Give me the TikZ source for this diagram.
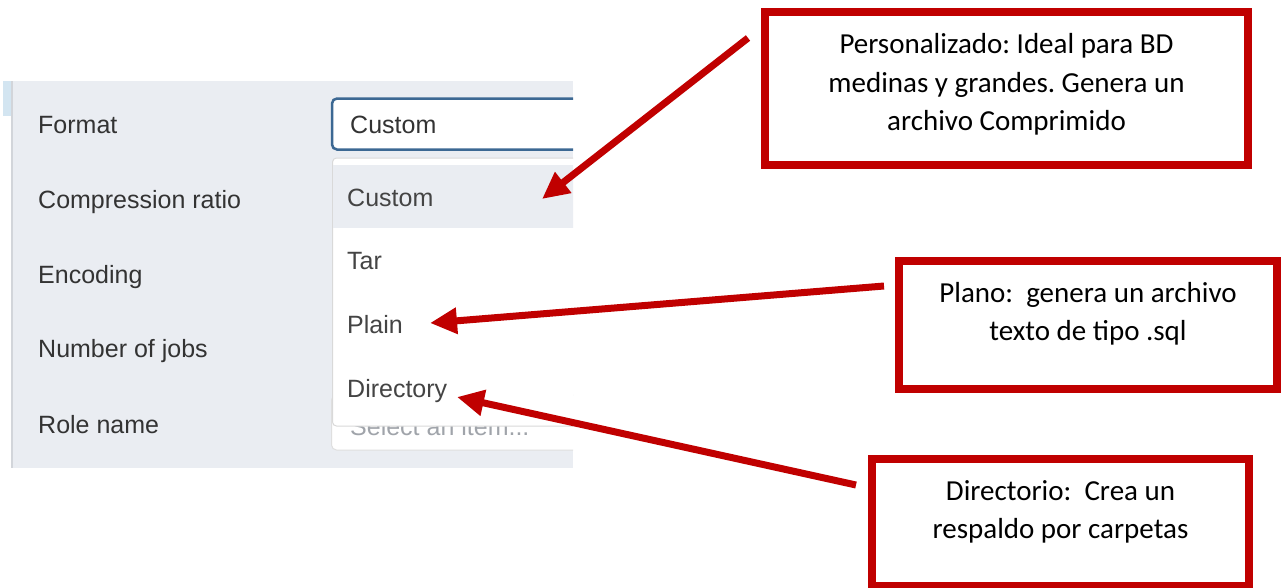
\documentclass[tikz,border=0pt]{standalone}
\usepackage{fontspec}
\setmainfont{Carlito}
\newfontfamily\uifont{Liberation Sans}
\usetikzlibrary{arrows.meta}
\frenchspacing
\definecolor{callred}{HTML}{C00000}
\definecolor{panelbg}{HTML}{EAEDF2}
\definecolor{stripblue}{HTML}{D3E5F1}
\definecolor{edgegrey}{HTML}{D2D5DA}
\definecolor{fieldblue}{HTML}{3C6893}
\definecolor{labeltext}{HTML}{333333}
\definecolor{itemtext}{HTML}{444444}
\definecolor{selectgrey}{HTML}{A0A4AA}
\tikzset{
  uitext/.style={font=\uifont\fontsize{25}{30}\selectfont, inner sep=0pt, anchor=base west},
  lbl/.style={uitext, text=labeltext},
  item/.style={uitext, text=itemtext},
  callbox/.style={draw=callred, line width=8pt, fill=white, inner sep=0pt, rectangle},
  calltext/.style={font=\frenchspacing\fontsize{29}{38.5}\selectfont, align=center, inner sep=0pt, text=black},
  callarrow/.style={draw=callred, line width=7pt, -{Triangle[length=27pt,width=25pt]}}
}
\begin{document}
\begin{tikzpicture}[x=1pt,y=-1pt]
\useasboundingbox (0,0) rectangle (1284,587);
\fill[white] (0,0) rectangle (1284,587);

% screenshot panel
\fill[panelbg] (13,81) rectangle (573,468);
\fill[stripblue] (3,81) rectangle (12,116);
\fill[edgegrey] (11,81) rectangle (13,468);

\begin{scope}
\clip (13,81) rectangle (573,468);
\draw[fieldblue, line width=2.5pt, fill=white, rounded corners=5pt] (332,98.5) rectangle (620,149.5);
\draw[gray!25, line width=1pt, fill=white, rounded corners=5pt] (331.5,395) rectangle (620,450);
\node[uitext, text=selectgrey] (selitem) at (350,435) {Select an item...};
\draw[gray!30, line width=1pt, fill=white, rounded corners=4pt] (332.5,158) rectangle (620,426);
\fill[panelbg] (333,165) rectangle (620,228);
\end{scope}

% left labels
\node[lbl] (lformat) at (38,133) {Format};
\node[lbl] (lcomp) at (38,208) {Compression ratio};
\node[lbl] (lenc) at (38,283) {Encoding};
\node[lbl] (ljobs) at (38,357) {Number of jobs};
\node[lbl] (lrole) at (38,433) {Role name};

% field value and dropdown items
\node[lbl] (fcustom) at (350,133) {Custom};
\node[item] (icustom) at (347,206) {Custom};
\node[item] (itar) at (347,269) {Tar};
\node[item] (iplain) at (347,333) {Plain};
\node[item] (idir) at (347,397) {Directory};

% callout boxes
\node[callbox, minimum width=483pt, minimum height=153.5pt] (box1) at (1006.5,88.25) {};
\node[calltext] (text1) at (1006.5,84.5) {Personalizado: Ideal para BD\\medinas y grandes. Genera un\\archivo Comprimido};
\node[callbox, minimum width=378pt, minimum height=128pt] (box2) at (1088,325) {};
\node[calltext] (text2) at (1088,314) {Plano:\ \ genera un archivo\\texto de tipo .sql};
\node[callbox, minimum width=377pt, minimum height=127.5pt] (box3) at (1060.5,522.25) {};
\node[calltext] (text3) at (1060.5,512) {Directorio:\ \ Crea un\\respaldo por carpetas};

% arrows
\coordinate (a1s) at (748,38);
\coordinate (a1e) at (542,199);
\coordinate (a2s) at (884,286);
\coordinate (a2e) at (430,323);
\coordinate (a3s) at (856,485);
\coordinate (a3e) at (457,397);
\draw[callarrow] (a1s) -- (a1e);
\draw[callarrow] (a2s) -- (a2e);
\draw[callarrow] (a3s) -- (a3e);
\end{tikzpicture}
\end{document}
